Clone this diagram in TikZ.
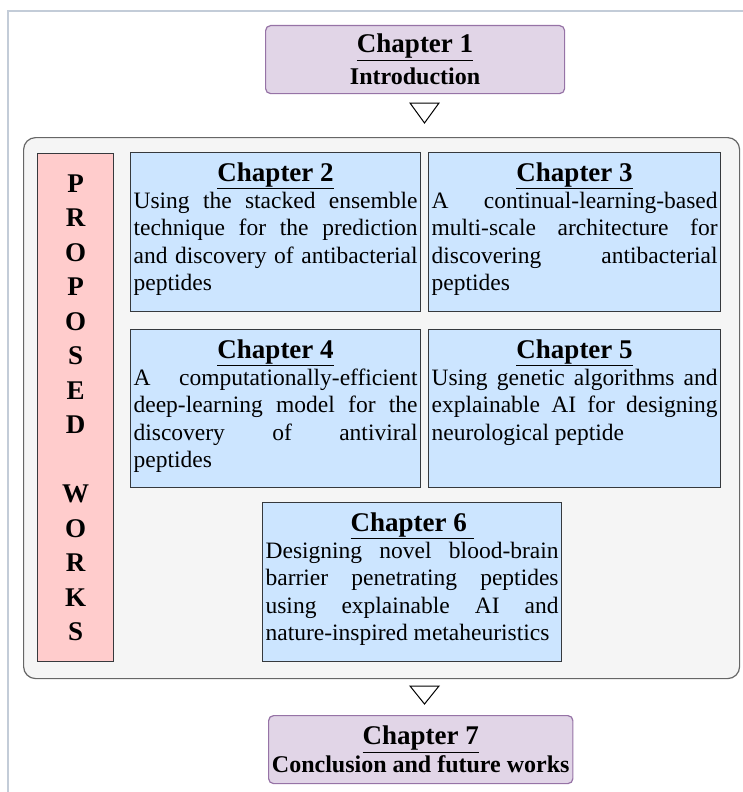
\documentclass[tikz,border=0pt]{standalone}
\usepackage{fontspec}
\setmainfont{Liberation Serif}

\definecolor{chapblue}{HTML}{CCE5FF}
\definecolor{worksred}{HTML}{FFCCCC}
\definecolor{panelgray}{HTML}{F5F5F5}
\definecolor{panelline}{HTML}{666666}
\definecolor{boxline}{HTML}{36393D}
\definecolor{lilac}{HTML}{E1D5E7}
\definecolor{lilacline}{HTML}{9673A6}
\definecolor{frameline}{HTML}{C3CCD8}

% heading + justified body, top aligned
\newcommand{\chapblock}[4]{%
  \parbox[t][#2][t]{#1}{\hyphenpenalty=10000\exhyphenpenalty=10000
    \tolerance=10000\hbadness=10000
    {\centering\fontsize{27}{27}\selectfont\bfseries\underline{#3}\par}
    \fontsize{23.5}{27.3}\selectfont #4\par}}

\begin{document}
\begin{tikzpicture}[x=1pt,y=-1pt,
    chapbox/.style={draw=boxline,fill=chapblue,line width=1.2pt,
      inner xsep=3pt,inner ysep=10pt,anchor=north west},
    endbox/.style={draw=lilacline,fill=lilac,line width=1.2pt,rounded corners=5pt,
      anchor=north west,align=center,minimum width=299pt,minimum height=68pt,
      font=\fontsize{24}{28}\selectfont\bfseries},
    worksbox/.style={draw=boxline,fill=worksred,line width=1.2pt,anchor=north west,
      align=center,minimum width=76pt,minimum height=508pt,
      font=\fontsize{27}{34.5}\selectfont\bfseries},
    panel/.style={draw=panelline,fill=panelgray,line width=1.2pt,rounded corners=12pt,
      anchor=north west,minimum width=716pt,minimum height=541pt},
    marker/.style={draw=black,fill=white,line width=1pt,line join=miter}]
  \useasboundingbox (0,0) rectangle (743,792);

  % frame
  \draw[frameline,line width=1.5pt] (743,11) -- (8,11) -- (8,792);

  % Chapter 1
  \node[endbox] (ch1) at (265,25)
    {{\fontsize{27}{28}\selectfont\underline{Chapter 1}}\\[4pt]Introduction};
  \draw[marker] (410,103) -- (439,103) -- (424.5,123) -- cycle;

  % proposed works
  \node[panel] (works) at (23,137) {};
  \node[worksbox] (label) at (37,153)
    {P\\R\\O\\P\\O\\S\\E\\D\\[34.5pt]W\\O\\R\\K\\S};

  \node[chapbox] (ch2) at (130,152) {\chapblock{284pt}{139pt}{Chapter 2}{%
    Using the stacked ensemble\linebreak technique for the prediction\linebreak
    and discovery of antibacterial\linebreak peptides}};
  \node[chapbox] (ch3) at (428,152) {\chapblock{286pt}{139pt}{Chapter 3}{%
    A continual-learning-based\linebreak multi-scale architecture for\linebreak
    discovering antibacterial\linebreak peptides}};
  \node[chapbox] (ch4) at (130,329) {\chapblock{284pt}{138pt}{Chapter 4}{%
    A computationally-efficient\linebreak deep-learning model for the\linebreak
    discovery of antiviral\linebreak peptides}};
  \node[chapbox] (ch5) at (428,329) {\chapblock{286pt}{138pt}{Chapter 5}{%
    Using genetic algorithms and\linebreak explainable AI for designing\linebreak
    neurological peptide}};
  \node[chapbox] (ch6) at (262,502) {\chapblock{293pt}{139pt}{Chapter 6\ }{%
    Designing novel blood-brain\linebreak barrier penetrating peptides\linebreak
    using explainable AI and\linebreak nature-inspired metaheuristics}};

  % Chapter 7
  \draw[marker] (410,686) -- (439,686) -- (424.5,704) -- cycle;
  \node[endbox,minimum width=300pt] (ch7) at (268,715)
    {{\fontsize{27}{28}\selectfont\underline{Chapter 7}}\\Conclusion and future works};

\end{tikzpicture}
\end{document}
